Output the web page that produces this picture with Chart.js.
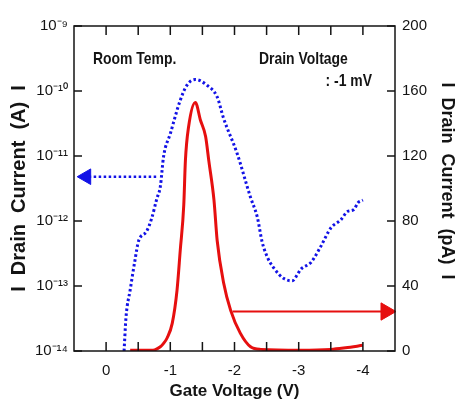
<!DOCTYPE html>
<html>
<head>
<meta charset="utf-8">
<script src="https://cdn.jsdelivr.net/npm/chart.js@4/dist/chart.umd.min.js"></script>
<style>
  body { margin: 0; background: #fff; }
  #wrap { width: 457px; height: 403px; }
</style>
</head>
<body>
<div id="wrap"><canvas id="c"></canvas></div>
<script>
// Gate voltage sweep, blue = log current (A), red = linear current (pA)
var blueV = [-0.28, -0.31, -0.375, -0.45, -0.505, -0.63, -0.71, -0.79, -0.845, -0.895, -1.0, -1.155, -1.26, -1.39, -1.57, -1.73, -1.83, -2.04, -2.25, -2.355, -2.43, -2.51, -2.61, -2.77, -2.90, -2.98, -3.03, -3.19, -3.34, -3.5, -3.66, -3.76, -3.86, -3.92, -4.0];
var blueI = [1.0e-14, 3.3e-14, 8.7e-14, 2.5e-13, 4.9e-13, 6.9e-13, 1.1e-12, 2.2e-12, 3.4e-12, 9.8e-12, 2.2e-11, 7.2e-11, 1.23e-10, 1.5e-10, 1.23e-10, 8.1e-11, 3.8e-11, 1.1e-11, 2.3e-12, 1.15e-12, 4.8e-13, 2.8e-13, 1.9e-13, 1.3e-13, 1.2e-13, 1.5e-13, 1.8e-13, 2.3e-13, 4.0e-13, 7.8e-13, 1.05e-12, 1.4e-12, 1.5e-12, 1.9e-12, 2.1e-12];

var redV = [-0.375, -0.73, -0.845, -0.895, -0.95, -1.03, -1.105, -1.155, -1.21, -1.235, -1.285, -1.39, -1.47, -1.55, -1.6, -1.68, -1.73, -1.83, -1.94, -2.09, -2.25, -2.41, -3.03, -3.5, -3.73, -4.0];
var redPA = [0.5, 0.5, 2.6, 4.7, 8, 17, 37.5, 62, 90, 117, 138, 153, 142, 132, 117, 93, 68, 42, 25, 11, 2.6, 1, 0.5, 1, 2, 3.5];

// arrows pointing to each axis
var blueArrowV = [-0.78, 0.31];
var blueArrowI = [4.8e-12, 4.8e-12];
var redArrowV = [-1.97, -4.36];
var redArrowPA = [24.3, 24.3];

var xTicks = [0.5, 0, -0.5, -1, -1.5, -2, -2.5, -3, -3.5, -4, -4.5];
var yLeftTicks = [1e-14, 1e-13, 1e-12, 1e-11, 1e-10, 1e-9];
var yRightTicks = [0, 40, 80, 120, 160, 200];

var BLUE = '#1212e6';
var RED = '#e60f0f';
var INK = '#141414';
var FONT = "'Liberation Sans', Arial, sans-serif";

function pairs(xs, ys) {
    return xs.map(function (v, i) { return { x: v, y: ys[i] }; });
}

var sup = { '0': '⁰', '1': '¹', '2': '²', '3': '³', '4': '⁴', '5': '⁵', '6': '⁶', '7': '⁷', '8': '⁸', '9': '⁹', '-': '⁻' };
function powLabel(v) {
    var e = String(Math.round(Math.log10(v)));
    return '10' + e.split('').map(function (c) { return sup[c]; }).join('');
}

function narrowText(ctx, txt, x, y, align) {
    ctx.save();
    ctx.font = 'bold 17px ' + FONT;
    ctx.translate(x, y);
    ctx.scale(0.82, 1);
    ctx.textAlign = align;
    ctx.textBaseline = 'alphabetic';
    ctx.fillText(txt, 0, 0);
    ctx.restore();
}

// frame, inward ticks and the text notes
var framePlugin = {
    id: 'frame',
    afterDatasetsDraw: function (chart) {
        var ctx = chart.ctx, a = chart.chartArea, s = chart.scales;
        ctx.save();
        ctx.strokeStyle = INK;
        ctx.lineWidth = 1.5;
        ctx.strokeRect(a.left, a.top, a.right - a.left, a.bottom - a.top);
        ctx.beginPath();
        xTicks.forEach(function (v) {
            var px = s.x.getPixelForValue(v);
            if (px <= a.left + 1 || px >= a.right - 1) return;
            ctx.moveTo(px, a.bottom); ctx.lineTo(px, a.bottom - 9);
            ctx.moveTo(px, a.top); ctx.lineTo(px, a.top + 9);
        });
        yLeftTicks.forEach(function (v) {
            var py = s.y.getPixelForValue(v);
            ctx.moveTo(a.left, py); ctx.lineTo(a.left + 8, py);
        });
        yRightTicks.forEach(function (v) {
            var py = s.yR.getPixelForValue(v);
            ctx.moveTo(a.right, py); ctx.lineTo(a.right - 8, py);
        });
        ctx.stroke();

        ctx.fillStyle = INK;
        narrowText(ctx, 'Room Temp.', a.left + 19, a.top + 38, 'left');
        narrowText(ctx, 'Drain Voltage', a.left + 185, a.top + 38, 'left');
        narrowText(ctx, ': -1 mV', a.right - 23, a.top + 60, 'right');
        ctx.restore();
    }
};

var ctx = document.getElementById('c').getContext('2d');
var chart = new Chart(ctx, {
    type: 'line',
    data: {
        datasets: [{
                label: 'log current',
                data: pairs(blueV, blueI),
                yAxisID: 'y',
                borderColor: BLUE,
                borderWidth: 3,
                borderDash: [2.5, 2.5],
                pointRadius: 0,
                cubicInterpolationMode: 'monotone'
            },
            {
                label: 'linear current',
                data: pairs(redV, redPA),
                yAxisID: 'yR',
                borderColor: RED,
                borderWidth: 3,
                pointRadius: 0,
                cubicInterpolationMode: 'monotone'
            },
            {
                label: 'arrow A',
                data: pairs(blueArrowV, blueArrowI),
                yAxisID: 'y',
                borderColor: BLUE,
                borderWidth: 2.5,
                borderDash: [2.5, 2.5],
                pointStyle: 'triangle',
                pointRotation: 270,
                pointRadius: [0, 9],
                pointBackgroundColor: BLUE,
                pointBorderColor: BLUE,
                pointBorderWidth: 1,
                clip: false
            },
            {
                label: 'arrow pA',
                data: pairs(redArrowV, redArrowPA),
                yAxisID: 'yR',
                borderColor: RED,
                borderWidth: 2,
                pointStyle: 'triangle',
                pointRotation: 90,
                pointRadius: [0, 10],
                pointBackgroundColor: RED,
                pointBorderColor: RED,
                pointBorderWidth: 1,
                clip: false
            }
        ]
    },
    options: {
        responsive: true,
        maintainAspectRatio: false,
        devicePixelRatio: 1,
        animation: false,
        layout: { padding: { top: 26, left: 0, right: 0, bottom: 0 } },
        plugins: {
            legend: { display: false },
            tooltip: { enabled: false }
        },
        scales: {
            x: {
                type: 'linear',
                position: 'bottom',
                min: -4.5,
                max: 0.5,
                reverse: true,
                grid: { display: false, drawTicks: false },
                border: { display: false },
                afterBuildTicks: function (s) { s.ticks = xTicks.map(function (v) { return { value: v }; }); },
                afterFit: function (s) { s.height = 52; },
                ticks: {
                    autoSkip: false,
                    maxRotation: 0,
                    padding: 11,
                    color: INK,
                    font: { family: FONT, size: 15 },
                    callback: function (v) { return Number.isInteger(v) ? String(v) : ''; }
                },
                title: {
                    display: true,
                    text: 'Gate Voltage (V)',
                    color: INK,
                    font: { family: FONT, size: 17, weight: 'bold', lineHeight: 1 },
                    padding: { top: 0, bottom: 3 }
                }
            },
            y: {
                type: 'logarithmic',
                position: 'left',
                min: 1e-14,
                max: 1e-9,
                grid: { display: false, drawTicks: false },
                border: { display: false },
                afterBuildTicks: function (s) { s.ticks = yLeftTicks.map(function (v) { return { value: v }; }); },
                afterFit: function (s) { s.width = 74; },
                ticks: {
                    padding: 6,
                    color: INK,
                    font: { family: FONT, size: 15 },
                    callback: function (v) { return powLabel(v); }
                },
                title: {
                    display: true,
                    text: 'I  Drain  Current  (A)  I',
                    color: INK,
                    font: { family: FONT, size: 20, weight: 'bold', lineHeight: 1 },
                    padding: { top: 9.5, bottom: 0 }
                }
            },
            yR: {
                type: 'linear',
                position: 'right',
                min: 0,
                max: 200,
                grid: { display: false, drawTicks: false },
                border: { display: false },
                afterBuildTicks: function (s) { s.ticks = yRightTicks.map(function (v) { return { value: v }; }); },
                afterFit: function (s) { s.width = 62; },
                ticks: {
                    padding: 7,
                    color: INK,
                    font: { family: FONT, size: 15 }
                },
                title: {
                    display: true,
                    text: 'I  Drain  Current  (pA)  I   ',
                    color: INK,
                    font: { family: FONT, size: 18, weight: 'bold', lineHeight: 1 },
                    padding: { top: 1, bottom: 0 }
                }
            }
        }
    },
    plugins: [framePlugin]
});
</script>
</body>
</html>
